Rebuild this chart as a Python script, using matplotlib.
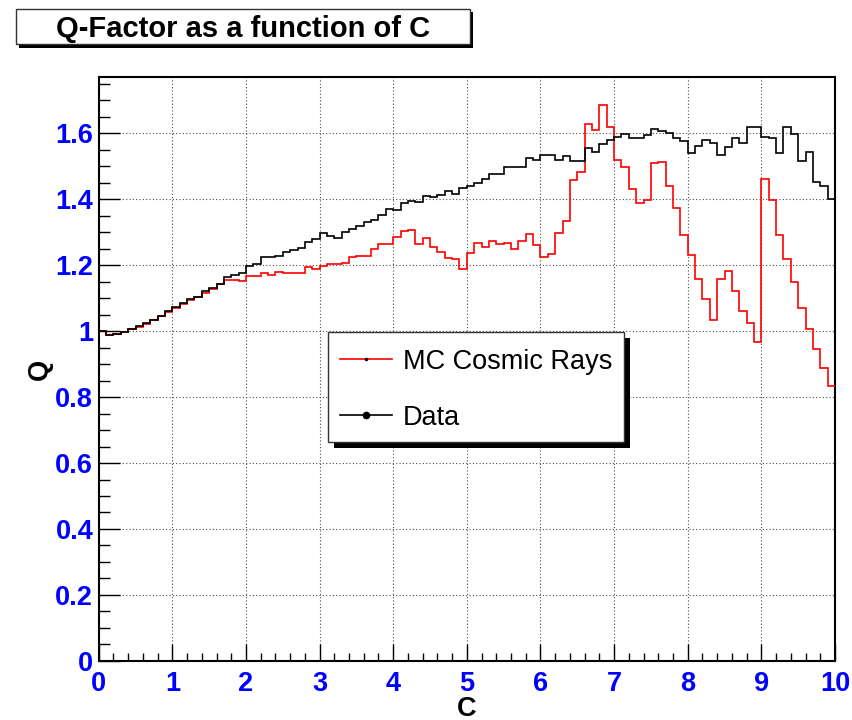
import matplotlib
matplotlib.use('Agg')
import matplotlib.pyplot as plt
from matplotlib.patches import Rectangle
from matplotlib.lines import Line2D
from matplotlib.ticker import MultipleLocator, FuncFormatter
import numpy as np

plt.rcParams['font.family'] = ['Liberation Sans', 'DejaVu Sans']
plt.rcParams['font.weight'] = 'bold'

W, H = 853, 720

# 100 bins of width 0.1 in C
bin_edges = np.linspace(0, 10, 101)

mc_q = [
    1.000, 0.987, 0.993, 0.998, 1.006, 1.014, 1.023, 1.033, 1.045, 1.058,
    1.071, 1.084, 1.096, 1.103, 1.117, 1.128, 1.142, 1.156, 1.156, 1.153,
    1.166, 1.168, 1.178, 1.169, 1.181, 1.176, 1.176, 1.177, 1.194, 1.190,
    1.198, 1.204, 1.203, 1.208, 1.225, 1.228, 1.228, 1.250, 1.264, 1.264,
    1.285, 1.305, 1.307, 1.266, 1.282, 1.255, 1.241, 1.221, 1.219, 1.189,
    1.238, 1.269, 1.255, 1.273, 1.264, 1.267, 1.250, 1.273, 1.295, 1.262,
    1.226, 1.234, 1.298, 1.333, 1.458, 1.484, 1.628, 1.611, 1.686, 1.618,
    1.519, 1.498, 1.431, 1.389, 1.398, 1.509, 1.512, 1.439, 1.374, 1.291,
    1.232, 1.157, 1.098, 1.033, 1.157, 1.182, 1.123, 1.061, 1.025, 0.966,
    1.462, 1.399, 1.293, 1.220, 1.149, 1.071, 1.007, 0.946, 0.887, 0.835,
]

data_q = [
    1.000, 0.988, 0.993, 0.999, 1.007, 1.015, 1.026, 1.034, 1.046, 1.060,
    1.072, 1.085, 1.097, 1.105, 1.121, 1.132, 1.144, 1.163, 1.170, 1.178,
    1.197, 1.204, 1.225, 1.226, 1.229, 1.241, 1.245, 1.253, 1.272, 1.279,
    1.297, 1.288, 1.283, 1.300, 1.310, 1.318, 1.331, 1.338, 1.353, 1.372,
    1.369, 1.389, 1.394, 1.391, 1.410, 1.408, 1.414, 1.425, 1.416, 1.433,
    1.442, 1.450, 1.461, 1.478, 1.478, 1.499, 1.499, 1.499, 1.526, 1.519,
    1.535, 1.535, 1.518, 1.531, 1.515, 1.517, 1.555, 1.543, 1.568, 1.580,
    1.590, 1.597, 1.585, 1.586, 1.596, 1.613, 1.608, 1.602, 1.586, 1.576,
    1.542, 1.561, 1.581, 1.571, 1.535, 1.560, 1.587, 1.571, 1.618, 1.619,
    1.588, 1.586, 1.540, 1.621, 1.599, 1.517, 1.545, 1.453, 1.442, 1.402,
]

y_max = 1.05 * max(mc_q)


def fx(x):
    return x / W


def fy(y):
    return 1 - y / H


def box(x0, y0, x1, y1, shadow, lw=1.0):
    # white box with a solid black drop shadow, pixel coords from top-left
    fig.add_artist(Rectangle((fx(x0 + shadow), fy(y1 + shadow)), (x1 - x0) / W, (y1 - y0) / H,
                             transform=fig.transFigure, facecolor='black', edgecolor='none', zorder=5))
    fig.add_artist(Rectangle((fx(x0), fy(y1)), (x1 - x0) / W, (y1 - y0) / H,
                             transform=fig.transFigure, facecolor='white', edgecolor='#333333',
                             lw=lw, zorder=6))


fig = plt.figure(figsize=(W / 100, H / 100), dpi=100)
ax = fig.add_axes([fx(98.7), fy(660.8), (835 - 98.7) / W, (660.8 - 77.3) / H])

ax.stairs(mc_q, bin_edges, baseline=None, color='red', lw=1.2, zorder=3)
ax.stairs(data_q, bin_edges, baseline=None, color='black', lw=1.2, zorder=4)

ax.set_xlim(0, 10)
ax.set_ylim(0, y_max)

ax.xaxis.set_major_locator(MultipleLocator(1))
ax.xaxis.set_minor_locator(MultipleLocator(0.2))
ax.yaxis.set_major_locator(MultipleLocator(0.2))
ax.yaxis.set_minor_locator(MultipleLocator(0.05))
ax.yaxis.set_major_formatter(FuncFormatter(lambda v, _: f'{v:g}'))

ax.tick_params(axis='both', which='both', direction='in', colors='black',
               labelcolor='blue', labelsize=19.5, top=False, right=False)
ax.tick_params(axis='y', which='major', length=15, width=1, pad=4)
ax.tick_params(axis='y', which='minor', length=8, width=1)
ax.tick_params(axis='x', which='major', length=12, width=1, pad=7)
ax.tick_params(axis='x', which='minor', length=6, width=1)

ax.grid(True, which='major', color='0.3', linestyle=(0, (1, 2)), lw=0.8)
for sp in ax.spines.values():
    sp.set_linewidth(1.5)

ax.set_xlabel('C', fontsize=19.5, fontweight='bold')
ax.set_ylabel('Q', fontsize=19.5, fontweight='bold')
ax.xaxis.set_label_coords(0.5, -0.082)
ax.xaxis.label.set_verticalalignment('center')
ax.yaxis.set_label_coords(-0.08, 0.5)
ax.yaxis.label.set_verticalalignment('center')

# title box
box(15.7, 9, 470, 44, 3.5)
fig.text(fx(242.8), fy(36.7), 'Q-Factor as a function of C', ha='center', va='baseline',
         fontsize=21, fontweight='bold', zorder=7)

# legend box
box(328.3, 331.7, 624, 442.3, 6)
fig.add_artist(Line2D([fx(340), fx(391.7)], [fy(359.3), fy(359.3)], transform=fig.transFigure,
                      color='red', lw=1.2, zorder=7))
fig.add_artist(Line2D([fx(366)], [fy(359.3)], transform=fig.transFigure, marker='o',
                      markersize=1.5, color='black', zorder=8))
fig.add_artist(Line2D([fx(340), fx(391.7)], [fy(415), fy(415)], transform=fig.transFigure,
                      color='black', lw=1.2, zorder=7))
fig.add_artist(Line2D([fx(366)], [fy(415)], transform=fig.transFigure, marker='o',
                      markersize=4.5, color='black', zorder=8))
fig.text(fx(402.7), fy(369.3), 'MC Cosmic Rays', ha='left', va='baseline', fontsize=19.5,
         fontweight='normal', zorder=8)
fig.text(fx(402.7), fy(425), 'Data', ha='left', va='baseline', fontsize=19.5,
         fontweight='normal', zorder=8)

fig.savefig('out.png', dpi=100)
